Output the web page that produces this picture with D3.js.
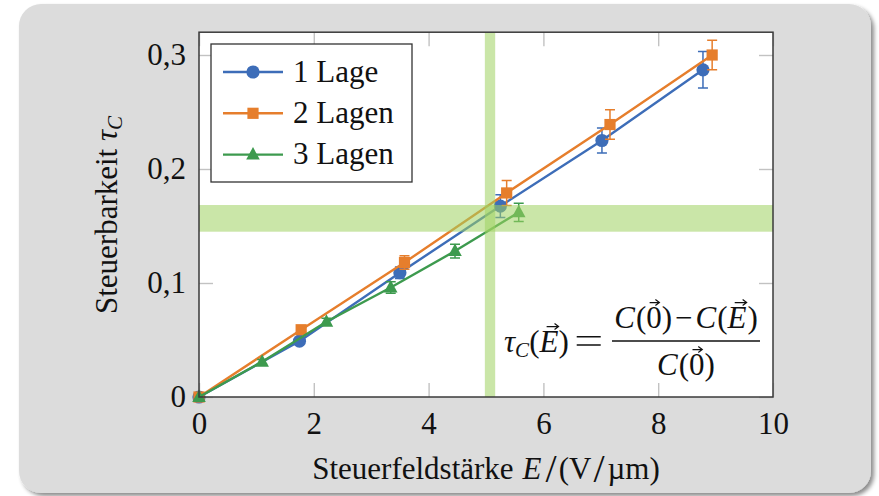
<!DOCTYPE html>
<html><head><meta charset="utf-8">
<script src="https://cdn.jsdelivr.net/npm/d3@7"></script>
<style>
body{margin:0;background:#fff}
svg{display:block}
text{font-family:"Liberation Serif","Times New Roman",serif;fill:#111}
</style>
</head><body>
<svg id="chart" width="879" height="496"></svg>
<script>
// Steuerbarkeit über Steuerfeldstärke für 1, 2 und 3 Lagen
const seriesNames  = ["1 Lage", "2 Lagen", "3 Lagen"];
const seriesColors = ["#3d6db8", "#e67e2c", "#3d9a4e"];
const seriesShapes = ["circle", "square", "triangle"];

const xLage1 = [0, 1.75, 3.50, 5.25, 7.02, 8.78];
const yLage1 = [0, 0.049, 0.109, 0.1675, 0.225, 0.287];
const eLage1 = [0, 0.002, 0.005, 0.010, 0.011, 0.016];

const xLage2 = [0, 1.78, 3.58, 5.36, 7.16, 8.94];
const yLage2 = [0, 0.059, 0.118, 0.179, 0.239, 0.300];
const eLage2 = [0, 0.002, 0.006, 0.011, 0.013, 0.013];

const xLage3 = [0, 1.10, 2.22, 3.34, 4.46, 5.57];
const yLage3 = [0, 0.031, 0.066, 0.096, 0.128, 0.162];
const eLage3 = [0, 0.002, 0.003, 0.005, 0.006, 0.008];

const xTicks = [0, 2, 4, 6, 8, 10];
const yTicks = [0, 0.1, 0.2, 0.3];
const yTickLabels = ["0", "0,1", "0,2", "0,3"];

// markierte Bereiche: Feldstärke um 5 V/µm und zugehöriger Tau-Bereich
const bandE   = [4.98, 5.16];
const bandTau = [0.145, 0.1684];

const svg = d3.select("#chart");
const FS = 31;
const L = 199, R = 773, T = 32.2, B = 397;

// Hintergrundtafel mit Schatten
const defs = svg.append("defs");
const f = defs.append("filter").attr("id", "shadow").attr("x", "-5%").attr("y", "-5%").attr("width", "110%").attr("height", "110%");
f.append("feDropShadow").attr("dx", 3).attr("dy", 3).attr("stdDeviation", 2)
  .attr("flood-color", "#000").attr("flood-opacity", 0.45);
svg.append("rect").attr("x", 19).attr("y", 4).attr("width", 852).attr("height", 489)
  .attr("rx", 22).attr("fill", "#dcdcdc").attr("filter", "url(#shadow)");

const x = d3.scaleLinear().domain([0, 10]).range([L, R]);
const y = d3.scaleLinear().domain([0, 0.32]).range([B, T]);

svg.append("rect").attr("x", L).attr("y", T).attr("width", R - L).attr("height", B - T).attr("fill", "#fff");

// Achsen mit innenliegenden Ticks
function styleAxis(g) {
  g.attr("font-family", null).attr("font-size", null);
  g.select(".domain").remove();
  g.selectAll(".tick line").attr("stroke", "#c2c2c2").attr("stroke-width", 1.4);
  g.selectAll(".tick text").style("font-size", FS + "px").attr("fill", "#111");
}
svg.append("g").attr("transform", `translate(0,${B})`)
  .call(d3.axisBottom(x).tickValues(xTicks).tickSize(-14).tickPadding(15).tickFormat(d => d))
  .call(styleAxis);
svg.append("g").attr("transform", `translate(0,${T})`)
  .call(d3.axisTop(x).tickValues(xTicks).tickSize(-14).tickFormat(""))
  .call(styleAxis);
svg.append("g").attr("transform", `translate(${L},0)`)
  .call(d3.axisLeft(y).tickValues(yTicks).tickSize(-14).tickPadding(13).tickFormat((d, i) => yTickLabels[i]))
  .call(styleAxis);
svg.append("g").attr("transform", `translate(${R},0)`)
  .call(d3.axisRight(y).tickValues(yTicks).tickSize(-14).tickFormat(""))
  .call(styleAxis);

// Datenreihen
const series = [
  xLage1.map((v, i) => ({x: v, y: yLage1[i], e: eLage1[i]})),
  xLage2.map((v, i) => ({x: v, y: yLage2[i], e: eLage2[i]})),
  xLage3.map((v, i) => ({x: v, y: yLage3[i], e: eLage3[i]}))
];

function marker(g, shape, color, cx, cy) {
  if (shape === "circle") {
    g.append("circle").attr("cx", cx).attr("cy", cy).attr("r", 6.6).attr("fill", color);
  } else if (shape === "square") {
    g.append("rect").attr("x", cx - 5.6).attr("y", cy - 5.6).attr("width", 11.2).attr("height", 11.2).attr("fill", color);
  } else {
    g.append("path").attr("d", `M${cx},${cy - 7.5}L${cx + 6.8},${cy + 5}L${cx - 6.8},${cy + 5}Z`).attr("fill", color);
  }
}

const line = d3.line().x(d => x(d.x)).y(d => y(d.y));
series.forEach((data, si) => {
  const c = seriesColors[si];
  const g = svg.append("g");
  g.append("path").datum(data).attr("d", line).attr("fill", "none")
    .attr("stroke", c).attr("stroke-width", 2.4);
  data.forEach(d => {
    if (d.e > 0) {
      const cx = x(d.x), y0 = y(d.y - d.e), y1 = y(d.y + d.e);
      g.append("path").attr("d", `M${cx},${y0}V${y1}M${cx - 5},${y0}H${cx + 5}M${cx - 5},${y1}H${cx + 5}`)
        .attr("stroke", c).attr("stroke-width", 1.5).attr("fill", "none");
    }
  });
  data.forEach(d => marker(g, seriesShapes[si], c, x(d.x), y(d.y)));
});

// halbtransparente Markierungsbänder
svg.append("rect").attr("x", L).attr("width", R - L)
  .attr("y", y(bandTau[1])).attr("height", y(bandTau[0]) - y(bandTau[1]))
  .attr("fill", "#9ed160").attr("opacity", 0.55);
svg.append("rect").attr("x", x(bandE[0])).attr("width", x(bandE[1]) - x(bandE[0]))
  .attr("y", T).attr("height", B - T)
  .attr("fill", "#9ed160").attr("opacity", 0.55);

// Rahmen
svg.append("rect").attr("x", L).attr("y", T).attr("width", R - L).attr("height", B - T)
  .attr("fill", "none").attr("stroke", "#3a3a3a").attr("stroke-width", 1.5);

// Legende
const lg = svg.append("g");
lg.append("rect").attr("x", 211).attr("y", 44).attr("width", 201).attr("height", 138)
  .attr("fill", "#fff").attr("stroke", "#333").attr("stroke-width", 1.3);
seriesNames.forEach((name, i) => {
  const cy = 72 + i * 41.3;
  lg.append("line").attr("x1", 223).attr("x2", 283).attr("y1", cy).attr("y2", cy)
    .attr("stroke", seriesColors[i]).attr("stroke-width", 2.4);
  marker(lg, seriesShapes[i], seriesColors[i], 253, cy);
  lg.append("text").attr("x", 293).attr("y", cy + 9.5).style("font-size", FS + "px").text(name);
});

// Formelsatz: Textstücke nacheinander setzen, Vektorpfeile darüber
function mathRun(g, parts) {
  let cx = 0;
  parts.forEach(p => {
    cx += p.pre || 0;
    const size = p.size || FS;
    let w;
    if (p.eq) {
      // breites Gleichheitszeichen aus zwei Strichen
      w = p.eq;
      g.append("path").attr("d", `M${cx},-15.3H${cx + w}M${cx},-7H${cx + w}`)
        .attr("stroke", "#111").attr("stroke-width", 1.5);
    } else {
      const t = g.append("text").attr("x", cx).attr("y", p.dy || 0)
        .style("font-size", size + "px").style("font-style", p.it ? "italic" : "normal").text(p.t);
      w = t.node().getComputedTextLength();
    }
    if (p.vec) {
      const ay = -0.66 * size - 5;
      const a0 = cx + w * 0.22 + (p.it ? 3 : 0), a1 = cx + w * 0.85 + (p.it ? 3 : 0);
      g.append("path").attr("d", `M${a0},${ay}H${a1}M${a1 - 4},${ay - 3}L${a1},${ay}L${a1 - 4},${ay + 3}`)
        .attr("stroke", "#111").attr("stroke-width", 1.2).attr("fill", "none");
    }
    cx += w + (p.sp || 0);
  });
  return cx;
}

const lhs = svg.append("g").attr("transform", "translate(504,352)");
mathRun(lhs, [
  {t: "τ", it: true}, {t: "C", it: true, size: 21, dy: 5, sp: 0},
  {t: "("}, {t: "E", it: true, vec: true, sp: 0}, {t: ")", sp: 8}, {eq: 24}
]);

const fracL = 612, fracR = 760, fracY = 341;
svg.append("line").attr("x1", fracL).attr("x2", fracR).attr("y1", fracY).attr("y2", fracY)
  .attr("stroke", "#111").attr("stroke-width", 1.3);
const num = svg.append("g");
const wNum = mathRun(num, [
  {t: "C", it: true, sp: 1}, {t: "("}, {t: "0", vec: true}, {t: ")", sp: 3}, {t: "−", sp: 3},
  {t: "C", it: true, sp: 1}, {t: "("}, {t: "E", it: true, vec: true, sp: 1}, {t: ")"}
]);
num.attr("transform", `translate(${(fracL + fracR) / 2 - wNum / 2},328)`);
const den = svg.append("g");
const wDen = mathRun(den, [{t: "C", it: true, sp: 1}, {t: "("}, {t: "0", vec: true}, {t: ")"}]);
den.attr("transform", `translate(${(fracL + fracR) / 2 - wDen / 2},375)`);

// Achsentitel
const xt = svg.append("g");
const wXt = mathRun(xt, [
  {t: "Steuerfeldstärke", sp: 9}, {t: "E", it: true, sp: 4},
  {t: "/", size: 40, dy: 3, sp: 2}, {t: "("}, {t: "V", sp: 2},
  {t: "/", size: 40, dy: 3, sp: 3}, {t: "µm"}, {t: ")"}
]);
xt.attr("transform", `translate(${(L + R) / 2 - wXt / 2},479)`);

const yt = svg.append("text").attr("transform", "translate(117,215) rotate(-90)")
  .attr("text-anchor", "middle").style("font-size", FS + "px");
yt.append("tspan").text("Steuerbarkeit ");
yt.append("tspan").style("font-style", "italic").text("τ");
yt.append("tspan").style("font-style", "italic").style("font-size", "21px").attr("dy", 5).text("C");
</script>
</body></html>
